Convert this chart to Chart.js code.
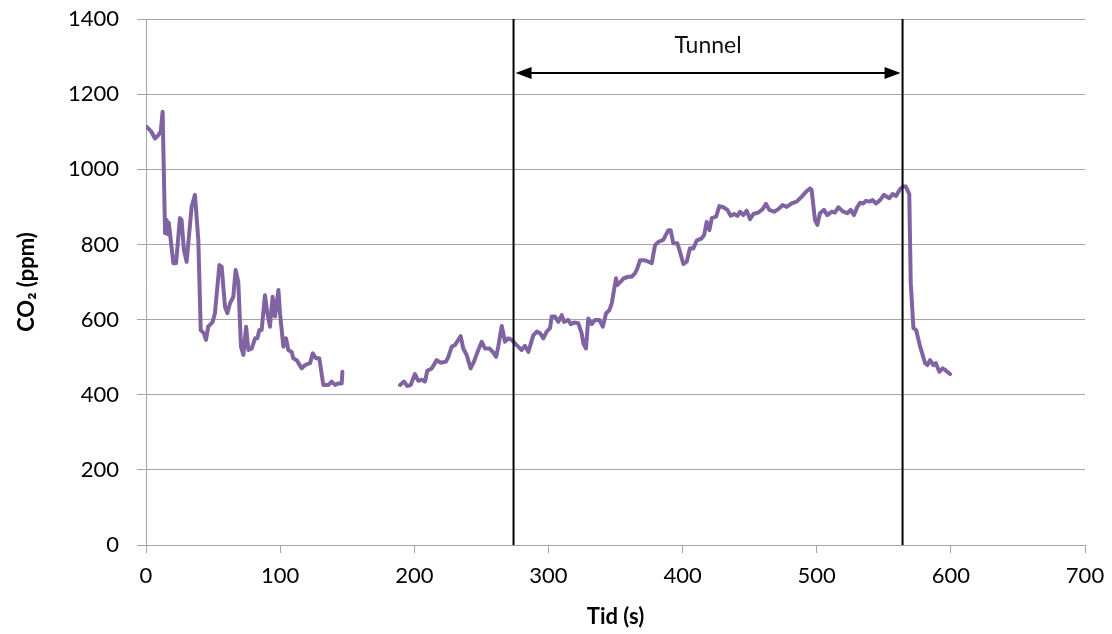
<!DOCTYPE html>
<html>
<head>
<meta charset="utf-8">
<script src="https://cdn.jsdelivr.net/npm/chart.js@4"></script>
<style>
html,body{margin:0;padding:0;background:#fff;}
#wrap{width:1112px;height:634px;}
</style>
</head>
<body>
<div id="wrap"><canvas id="c" width="1112" height="634"></canvas></div>
<script>
// Time (s) and CO2 (ppm) readings, segment 1, then a gap, then segment 2
const time1 = [0.5,4,6.7,9.2,11,12.4,14.2,15.4,16,17,20.4,22.4,25.3,26.5,28.3,30.3,34,36.5,39,40.8,43.2,44.7,46.4,49.7,51.4,54.7,56.4,58.9,60.6,62.6,65.1,66.8,68.8,70.8,72.6,74.6,76.3,78.8,81.3,83,84.5,86.2,88.7,90.5,92.4,94.4,96.2,98.7,99.9,102.4,104.4,106.1,108.6,109.8,112.3,116.1,118.5,122.3,124.3,126.7,129.2,132.2,136,138.4,140.9,143.4,145.9,146.4];
const co2_1 = [1113,1100,1082,1091,1100,1153,830,865,828,858,750,750,870,865,785,754,900,932,812,572,563,546,581,594,617,745,741,634,617,643,661,732,701,528,506,581,519,523,550,550,572,572,665,617,581,661,608,679,617,528,550,519,514,497,492,470,479,484,510,497,497,426,426,435,426,430,430,461];
const time2 = [189.4,192.3,194.8,197.3,200.5,203,205.5,208,209.7,213,216.7,219.7,223.6,225.4,227.9,230.3,232.8,234.6,236.5,239,242,244.5,247.7,250.3,252.7,256,258.5,261,262.6,265.2,267.6,270,272.6,276.3,280,282.5,285,288.7,291.3,293.7,296.2,298.7,301.2,302.4,304.9,307.4,309.9,311.6,314.8,316.6,319.1,322.3,324.8,326,328,329.7,332.3,334.7,338,340.5,343,345.4,347.2,350.4,351.3,353.9,356.3,359.5,362,364.5,366.3,368.3,371.3,374.5,377,379.5,382,385.6,389.4,391.1,393.1,396.1,398.1,400.6,403.1,405.5,408,410.5,414.2,416,418,420,421.8,425,427.4,430.4,433.4,435.9,438.4,440.9,442.8,445.3,447.8,450.3,452.8,456.5,459.7,462.2,464.7,468.2,471.4,474.6,477.6,481.3,485,488.8,492,495,496.2,498.7,500.5,502.4,505.4,507.9,511.1,513.6,516.1,519.8,522.8,525.3,527.8,530.3,532.3,534.8,536.7,539.2,541.7,544.2,547.2,550.2,554.1,556.6,559.1,562.1,564.4,566.4,569,570.1,572.1,574.1,577.1,580.8,582.5,584.5,587,588.8,591.4,593.9,595.6,599.4];
const co2_2 = [426,435,423,426,455,437,440,435,464,470,492,485,488,501,528,532,546,556,523,506,470,488,519,541,523,523,514,501,528,583,541,550,546,532,519,530,514,558,568,564,550,568,577,608,608,594,612,594,599,588,592,590,563,537,523,603,588,599,599,581,617,625,643,710,692,701,710,714,714,723,736,758,758,754,750,798,807,812,838,838,803,803,780,748,754,790,789,810,816,825,860,838,870,874,902,899,892,876,881,876,887,878,890,867,881,885,894,908,892,887,894,905,900,909,914,927,940,949,945,865,852,883,892,878,887,885,899,887,883,892,878,900,911,909,916,914,918,909,918,932,923,934,929,947,954,954,934,697,577,572,528,484,479,492,479,484,461,470,466,455];
const gapTime = 168;

const xTicks = [0,100,200,300,400,500,600,700];
const yTicks = [0,200,400,600,800,1000,1200,1400];

// Tunnel annotation
const tunnelTimes = [274, 564];
const arrowLevel = 1256;
const labelLevel = 1328;
const tunnelLabel = "Tunnel";

const points = [];
time1.forEach((t,i)=>points.push({x:t,y:co2_1[i]}));
points.push({x:gapTime,y:null});
time2.forEach((t,i)=>points.push({x:t,y:co2_2[i]}));

const FONT = "Lato, 'Open Sans', sans-serif";

const tunnelPlugin = {
  id:'tunnel',
  afterDatasetsDraw(chart){
    const {ctx, scales:{x,y}, chartArea} = chart;
    ctx.save();
    ctx.strokeStyle = '#000';
    ctx.fillStyle = '#000';
    ctx.lineWidth = 2;
    const xs = tunnelTimes.map(t=>x.getPixelForValue(t));
    xs.forEach(px=>{
      ctx.beginPath();
      ctx.moveTo(px, chartArea.top);
      ctx.lineTo(px, chartArea.bottom);
      ctx.stroke();
    });
    const ay = y.getPixelForValue(arrowLevel);
    const l = xs[0]+2, r = xs[1]-2;
    const hl = 16, hh = 6;
    ctx.beginPath();
    ctx.moveTo(l+hl-2, ay); ctx.lineTo(r-hl+2, ay); ctx.stroke();
    ctx.beginPath();
    ctx.moveTo(l, ay); ctx.lineTo(l+hl, ay-hh); ctx.lineTo(l+hl, ay+hh); ctx.closePath(); ctx.fill();
    ctx.beginPath();
    ctx.moveTo(r, ay); ctx.lineTo(r-hl, ay-hh); ctx.lineTo(r-hl, ay+hh); ctx.closePath(); ctx.fill();
    ctx.font = "23px " + FONT;
    ctx.textAlign = 'center';
    ctx.textBaseline = 'middle';
    ctx.fillStyle = '#111';
    ctx.fillText(tunnelLabel, (xs[0]+xs[1])/2, y.getPixelForValue(labelLevel));
    ctx.restore();
  }
};

new Chart(document.getElementById('c'), {
  type:'scatter',
  data:{datasets:[{
    data:points,
    showLine:true,
    spanGaps:false,
    borderColor:'#8064A2',
    backgroundColor:'#8064A2',
    borderWidth:4,
    pointRadius:0,
    tension:0,
    borderJoinStyle:'round',
    borderCapStyle:'round'
  }]},
  options:{
    responsive:false,
    animation:false,
    layout:{padding:{top:19,right:27,left:0,bottom:0}},
    plugins:{legend:{display:false},tooltip:{enabled:false}},
    scales:{
      x:{
        type:'linear', min:0, max:700,
        afterBuildTicks(s){ s.ticks = xTicks.map(v=>({value:v})); },
        afterFit(s){ s.height = 89; s.paddingLeft = 0; s.paddingRight = 0; },
        grid:{drawOnChartArea:false, drawTicks:true, tickLength:8, color:'#a6a6a6'},
        border:{display:true,color:'#a6a6a6'},
        ticks:{color:'#000', font:{family:FONT,size:22}, padding:10, maxRotation:0, callback:v=>String(v)},
        title:{display:true,text:'Tid (s)',color:'#000',font:{family:FONT,size:22,weight:'bold'},padding:{top:4}}
      },
      y:{
        min:0, max:1400,
        afterBuildTicks(s){ s.ticks = yTicks.map(v=>({value:v})); },
        afterFit(s){ s.width = 146; s.paddingTop = 0; s.paddingBottom = 0; },
        grid:{color:'#a6a6a6', drawTicks:true, tickLength:9},
        border:{display:true,color:'#a6a6a6'},
        ticks:{color:'#000', font:{family:FONT,size:22}, padding:18, callback:v=>String(v)},
        title:{display:true,text:'CO₂ (ppm)',color:'#000',font:{family:FONT,size:22,weight:'bold'},padding:{top:14,bottom:0}}
      }
    }
  },
  plugins:[tunnelPlugin]
});
</script>
</body>
</html>
